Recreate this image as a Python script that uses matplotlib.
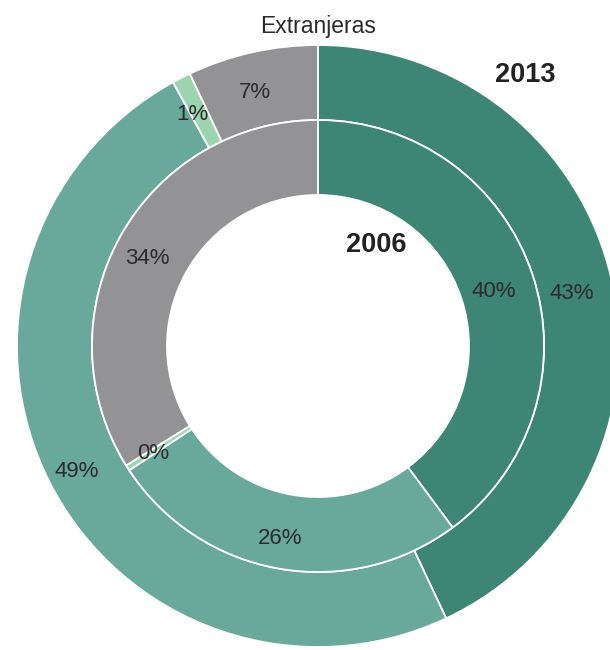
import matplotlib
matplotlib.use("Agg")
import matplotlib.pyplot as plt
import numpy as np

plt.rcParams['font.family'] = ['Liberation Sans', 'DejaVu Sans']

# Share of foreign-owned entities by category, 2013 (outer) and 2006 (inner)
categories = ["A", "B", "C", "D"]
outer_2013 = [43, 49, 1, 7]
inner_2006 = [40, 26, 0.4, 34]
outer_labels = ["43%", "49%", "1%", "7%"]
inner_labels = ["40%", "26%", "0%", "34%"]
colors = ["#3d8574", "#68a99c", "#9dd4b0", "#939396"]

W, H = 610, 650
fig = plt.figure(figsize=(W / 100, H / 100), dpi=100)
ax = fig.add_axes([0, 0, 1, 1])

cx, cy = 318, H - 346
R_out, R_mid, R_in = 301, 226, 151
ring = R_out - R_mid

wp = dict(edgecolor="white", linewidth=1.3, width=ring)
ax.pie(outer_2013, radius=R_out, center=(cx, cy), colors=colors,
       startangle=90, counterclock=False, wedgeprops=wp, frame=False)
wp_in = dict(edgecolor="white", linewidth=1.3, width=R_mid - R_in)
ax.pie(inner_2006, radius=R_mid, center=(cx, cy), colors=colors,
       startangle=90, counterclock=False, wedgeprops=wp_in, frame=False)

# labels sit slightly left of and below each wedge's mid-angle point
LABEL_SHIFT = (-5, -5)


def place_labels(values, labels, r):
    total = float(sum(values))
    start = 0.0
    for v, lab in zip(values, labels):
        mid = (start + v / 2) / total * 360.0
        start += v
        theta = np.deg2rad(90 - mid)
        ax.text(cx + r * np.cos(theta) + LABEL_SHIFT[0],
                cy + r * np.sin(theta) + LABEL_SHIFT[1], lab,
                ha="center", va="center", fontsize=16, color="#2b2b2b")


place_labels(outer_2013, outer_labels, 265)
place_labels(inner_2006, inner_labels, 190)

ax.text(525, H - 75, "2013", ha="center", va="center", fontsize=19.5,
        fontweight="bold", color="#222222")
ax.text(376, H - 245, "2006", ha="center", va="center", fontsize=19.5,
        fontweight="bold", color="#222222")
ax.text(318, H - 27, "Extranjeras", ha="center", va="center", fontsize=16.5,
        color="#2b2b2b")

ax.set_xlim(0, W)
ax.set_ylim(0, H)
ax.set_aspect("equal")
ax.axis("off")

fig.savefig("out.png", dpi=100)
